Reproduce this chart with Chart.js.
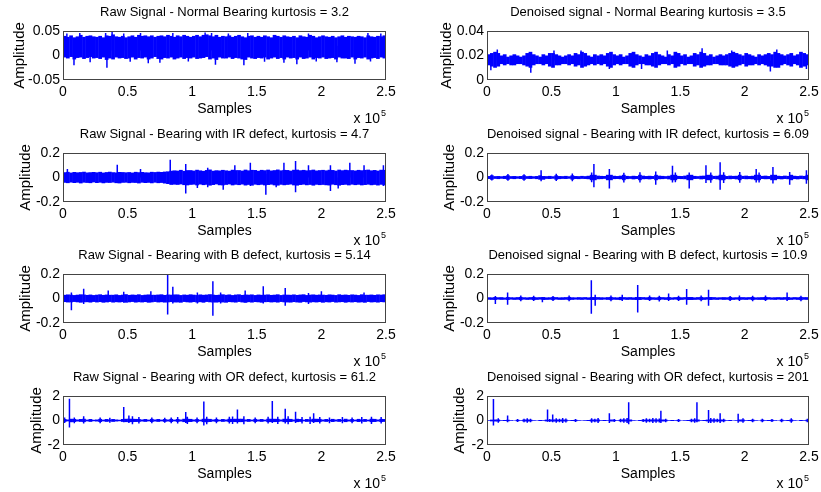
<!DOCTYPE html>
<html>
<head>
<meta charset="utf-8">
<title>Bearing signals</title>
<script src="https://cdn.jsdelivr.net/npm/chart.js@4.4.1/dist/chart.umd.min.js"></script>
<style>
  html, body { margin: 0; padding: 0; background: #fff; }
  body { width: 821px; height: 492px; position: relative; overflow: hidden; }
  canvas { position: absolute; }
</style>
</head>
<body>
<script>
// each trace = dense band (max/min per block of 2500 samples) + isolated spikes / bursts
const samplesPerBlock = 2500;

const xTickValues = [0, 50000, 100000, 150000, 200000, 250000];
const xTickLabels = ['0', '0.5', '1', '1.5', '2', '2.5'];

const yTicksNormalRaw = [-0.05, 0, 0.05];
const yLabelsNormalRaw = ['-0.05', '0', '0.05'];
const yTicksNormalDen = [0, 0.02, 0.04];
const yLabelsNormalDen = ['0', '0.02', '0.04'];
const yTicksSmall = [-0.2, 0, 0.2];
const yLabelsSmall = ['-0.2', '0', '0.2'];
const yTicksLarge = [-2, 0, 2];
const yLabelsLarge = ['-2', '0', '2'];

// --- normal bearing, raw
const rawNormalTop = [
  .040,.038,.041,.037,.039,.042,.038,.040,.041,.039, .038,.040,.037,.041,.040,.043,.039,.038,.040,.037,
  .039,.041,.038,.042,.040,.041,.039,.041,.038,.040, .041,.039,.042,.040,.038,.041,.039,.042,.040,.038,
  .040,.042,.039,.042,.043,.041,.039,.042,.038,.040, .039,.041,.038,.040,.042,.039,.037,.040,.041,.038,
  .040,.038,.041,.039,.037,.042,.040,.038,.041,.039, .038,.040,.037,.041,.039,.038,.042,.040,.037,.039,
  .041,.039,.038,.040,.037,.039,.041,.038,.040,.039, .038,.040,.039,.037,.041,.039,.038,.040,.039,.041
];
const rawNormalBottom = [
  -.004,-.006,-.003,-.008,-.005,-.004,-.007,-.005,-.003,-.006, -.005,-.007,-.004,-.009,-.006,-.008,-.004,-.006,-.005,-.007,
  -.006,-.004,-.008,-.005,-.006,-.004,-.008,-.006,-.003,-.007, -.008,-.005,-.006,-.004,-.008,-.006,-.004,-.007,-.005,-.006,
  -.004,-.007,-.006,-.005,-.003,-.008,-.006,-.009,-.004,-.006, -.006,-.004,-.007,-.005,-.006,-.008,-.009,-.004,-.006,-.007,
  -.005,-.006,-.004,-.008,-.006,-.004,-.007,-.005,-.008,-.004, -.006,-.005,-.008,-.004,-.007,-.006,-.004,-.008,-.005,-.006,
  -.004,-.007,-.006,-.005,-.008,-.004,-.006,-.006,-.007,-.004, -.008,-.005,-.006,-.004,-.008,-.006,-.005,-.007,-.004,-.006
];
const rawNormalSpikeAt = [3000, 8500, 13000, 21000, 33000, 34000, 38000, 47000, 52000, 60000, 66000, 75000, 85000, 97000, 110000,
  115000, 118000, 128000, 140000, 143000, 156000, 171000, 181000, 190000, 196000, 212000, 226000, 236000, 238000, 246000];
const rawNormalSpikeHi = [.045, .02, .046, .02, .046, .02, .049, .045, .02, .046, .02, .02, .046, .02, .047,
  .046, .02, .045, .02, .046, .02, .02, .02, .045, .02, .02, .02, .046, .02, .045];
const rawNormalSpikeLo = [.01, -.020, .01, -.014, .01, -.025, .01, .01, -.013, .01, -.016, -.015, .01, -.012, .01,
  .01, -.019, .01, -.020, .01, -.013, -.015, -.018, .01, -.012, -.014, -.017, .01, -.012, .01];

// --- normal bearing, denoised
const denNormalTop = [
  .021,.022,.023,.022,.020,.021,.019,.020,.021,.020, .019,.020,.022,.023,.021,.020,.019,.021,.020,.022,
  .022,.021,.020,.019,.020,.021,.020,.022,.021,.023, .022,.020,.019,.021,.020,.021,.020,.022,.023,.021,
  .020,.021,.019,.020,.022,.023,.021,.020,.019,.021, .020,.022,.023,.021,.020,.019,.021,.020,.023,.022,
  .020,.021,.019,.020,.022,.021,.023,.022,.020,.021, .019,.020,.021,.020,.021,.022,.023,.022,.021,.020,
  .022,.021,.020,.019,.021,.020,.021,.022,.021,.023, .022,.021,.020,.021,.022,.020,.021,.023,.022,.021
];
const denNormalBottom = [
  .012,.011,.010,.011,.013,.012,.013,.012,.012,.013, .013,.012,.011,.010,.012,.013,.013,.012,.013,.011,
  .010,.012,.012,.013,.013,.012,.013,.011,.012,.010, .011,.012,.013,.012,.013,.012,.013,.011,.010,.012,
  .013,.012,.013,.013,.011,.010,.012,.013,.013,.012, .012,.011,.010,.012,.013,.013,.012,.013,.010,.011,
  .013,.012,.013,.013,.011,.012,.010,.011,.012,.012, .013,.013,.012,.012,.012,.011,.010,.011,.012,.013,
  .011,.012,.012,.013,.012,.013,.012,.011,.011,.010, .010,.012,.013,.012,.011,.013,.012,.010,.011,.012
];
const denNormalSpikeAt = [3000, 8000, 34000, 52000, 73000, 95000, 120000, 140000, 167000, 190000, 220000, 225000, 248000];
const denNormalSpikeHi = [.016, .025, .016, .024, .024, .016, .016, .024, .026, .024, .016, .025, .016];
const denNormalSpikeLo = [.008, .016, .006, .016, .016, .009, .009, .016, .016, .016, .007, .016, .009];

// --- inner race defect, raw
const rawIrTop = [
  .043,.046,.040,.045,.042,.044,.047,.041,.043,.045, .042,.046,.040,.044,.047,.043,.041,.045,.044,.042,
  .044,.040,.046,.043,.045,.042,.041,.046,.044,.047, .045,.048,.050,.055,.058,.056,.062,.054,.060,.060,
  .056,.063,.058,.054,.061,.065,.055,.059,.057,.062, .058,.055,.063,.060,.060,.056,.064,.058,.062,.061,
  .055,.062,.059,.064,.057,.060,.065,.058,.062,.061, .056,.063,.064,.059,.062,.058,.060,.064,.057,.060,
  .062,.058,.063,.061,.056,.064,.059,.063,.060,.060, .057,.062,.059,.062,.064,.058,.061,.056,.063,.062
];
const rawIrBottom = [
  -.043,-.046,-.041,-.045,-.042,-.048,-.042,-.044,-.046,-.040, -.045,-.042,-.047,-.043,-.044,-.041,-.046,-.048,-.043,-.042,
  -.046,-.043,-.044,-.048,-.042,-.045,-.043,-.047,-.042,-.046, -.044,-.049,-.053,-.060,-.058,-.060,-.056,-.062,-.064,-.060,
  -.058,-.064,-.057,-.062,-.059,-.066,-.061,-.056,-.063,-.064, -.060,-.056,-.064,-.059,-.062,-.057,-.065,-.060,-.066,-.058,
  -.062,-.059,-.064,-.061,-.058,-.064,-.066,-.059,-.063,-.060, -.057,-.064,-.066,-.061,-.058,-.063,-.060,-.066,-.059,-.062,
  -.060,-.063,-.065,-.058,-.062,-.066,-.061,-.059,-.064,-.058, -.062,-.059,-.064,-.061,-.058,-.063,-.060,-.065,-.059,-.064
];
const rawIrSpikeAt = [3400, 42000, 60000, 83000, 95000, 104000, 112000, 124000, 133000, 145000, 157000, 165000, 171000, 180000,
  190000, 207000, 213000, 222000, 233000, 248000];
const rawIrSpikeHi = [.070, .105, .070, .145, .110, 0, .080, 0, .100, .120, .030, 0, .120, .135, .100, .100, 0, .120, .100, .100];
const rawIrSpikeLo = [0, 0, 0, -.040, -.130, -.085, -.080, -.100, 0, -.070, -.140, -.080, 0, -.120, 0, -.110, -.090, 0, 0, -.070];

// --- inner race defect, denoised
const denIrTop = [
  .012,.018,.011,.012,.010,.013,.018,.011,.012,.010, .012,.018,.011,.013,.010,.012,.018,.012,.011,.013,
  .010,.018,.012,.011,.013,.010,.018,.012,.011,.013, .011,.014,.022,.022,.015,.013,.012,.022,.022,.014,
  .012,.015,.022,.013,.011,.014,.012,.022,.015,.012, .014,.012,.022,.015,.013,.011,.014,.022,.022,.013,
  .012,.015,.022,.022,.013,.011,.014,.015,.022,.022, .013,.014,.022,.022,.012,.015,.013,.014,.022,.013,
  .015,.012,.014,.022,.022,.013,.015,.012,.022,.022, .014,.012,.015,.013,.022,.014,.012,.015,.013,.022
];
const denIrBottom = [
  -.012,-.018,-.011,-.013,-.010,-.012,-.018,-.011,-.013,-.010, -.012,-.018,-.011,-.012,-.010,-.013,-.018,-.018,-.011,-.012,
  -.010,-.018,-.013,-.011,-.012,-.010,-.018,-.012,-.013,-.011, -.012,-.014,-.022,-.022,-.014,-.013,-.011,-.022,-.022,-.013,
  -.012,-.014,-.022,-.013,-.011,-.015,-.012,-.022,-.014,-.013, -.015,-.012,-.022,-.014,-.013,-.011,-.015,-.022,-.022,-.012,
  -.013,-.014,-.022,-.022,-.012,-.011,-.015,-.013,-.022,-.022, -.012,-.015,-.022,-.022,-.013,-.014,-.012,-.015,-.022,-.012,
  -.014,-.013,-.015,-.022,-.022,-.012,-.014,-.013,-.022,-.022, -.013,-.015,-.012,-.014,-.022,-.013,-.015,-.012,-.014,-.022
];
const denIrSpikeAt = [42000, 83000, 95000, 131000, 144000, 157000, 170000, 181000, 209000, 222000, 235000, 248000,
  3750, 16250, 28750, 53750, 66250, 81250, 106250, 118750, 146250, 173750, 183750, 196250, 211250];
const denIrSpikeHi = [.060, .110, .070, .050, .095, .040, .100, .125, .070, .085, .045, .060,
  .025, .028, .027, .030, .032, .040, .038, .042, .040, .040, .042, .045, .040];
const denIrSpikeLo = [-.030, -.080, -.090, -.060, -.040, -.090, -.045, -.100, -.040, -.048, -.060, -.050,
  -.025, -.027, -.026, -.029, -.030, -.038, -.040, -.040, -.038, -.042, -.045, -.042, -.040];

// --- ball defect, raw
const rawBTop = [
  .030,.033,.031,.028,.031,.034,.032,.029,.032,.028, .031,.034,.029,.032,.030,.030,.033,.028,.031,.035,
  .029,.032,.030,.034,.028,.031,.033,.030,.030,.032, .034,.029,.032,.031,.033,.033,.028,.032,.030,.034,
  .031,.028,.033,.030,.032,.035,.031,.029,.031,.034, .030,.033,.028,.032,.034,.029,.032,.031,.033,.028,
  .032,.030,.031,.033,.029,.031,.034,.028,.032,.031, .030,.033,.029,.032,.034,.028,.031,.033,.030,.032,
  .031,.029,.033,.031,.028,.034,.030,.032,.029,.033, .031,.028,.034,.030,.030,.032,.029,.033,.031,.034
];
const rawBBottom = [
  -.029,-.032,-.031,-.028,-.031,-.034,-.030,-.030,-.033,-.028, -.032,-.029,-.034,-.031,-.028,-.033,-.030,-.032,-.029,-.034,
  -.031,-.028,-.033,-.030,-.032,-.029,-.034,-.031,-.028,-.032, -.030,-.033,-.031,-.029,-.032,-.032,-.034,-.028,-.031,-.033,
  -.029,-.032,-.030,-.034,-.028,-.031,-.032,-.033,-.030,-.032, -.034,-.029,-.031,-.033,-.028,-.032,-.035,-.030,-.033,-.029,
  -.031,-.034,-.030,-.029,-.032,-.030,-.033,-.028,-.031,-.032, -.033,-.029,-.032,-.034,-.028,-.031,-.033,-.030,-.032,-.029,
  -.034,-.030,-.032,-.028,-.033,-.031,-.029,-.034,-.030,-.032, -.029,-.033,-.031,-.034,-.028,-.032,-.030,-.033,-.029,-.031
];
const rawBSpikeAt = [6500, 16000, 35000, 47000, 68000, 81000, 85000, 104000, 116000, 122000, 141000, 155000, 172000, 190000, 200000, 233000];
const rawBSpikeHi = [.050, .080, .065, .055, .060, .200, .095, .050, .140, .050, .065, .100, .085, .045, .060, .050];
const rawBSpikeLo = [-.095, -.045, -.030, -.035, -.030, -.130, -.040, -.040, -.140, -.040, -.030, -.040, -.060, -.045, -.030, -.030];

// --- ball defect, denoised
const denBTop = [
  .010,.009,.012,.010,.011,.008,.012,.010,.009,.011, .013,.010,.009,.011,.013,.010,.011,.012,.009,.010,
  .013,.011,.009,.010,.011,.013,.010,.009,.011,.010, .011,.009,.012,.012,.011,.010,.009,.011,.013,.010,
  .009,.013,.011,.010,.011,.009,.012,.012,.011,.010, .013,.010,.009,.013,.011,.010,.012,.009,.011,.013,
  .010,.011,.012,.012,.009,.011,.013,.010,.011,.012, .011,.009,.010,.011,.010,.013,.009,.010,.011,.011,
  .010,.011,.013,.009,.010,.011,.013,.011,.009,.010, .011,.010,.011,.012,.009,.011,.010,.013,.011,.011
];
const denBBottom = [
  -.010,-.011,-.012,-.009,-.011,-.010,-.012,-.009,-.011,-.010, -.013,-.009,-.011,-.010,-.013,-.011,-.009,-.012,-.011,-.010,
  -.013,-.009,-.011,-.011,-.010,-.013,-.011,-.009,-.010,-.011, -.009,-.011,-.012,-.012,-.010,-.011,-.009,-.011,-.013,-.010,
  -.011,-.013,-.009,-.011,-.010,-.011,-.012,-.012,-.009,-.011, -.013,-.010,-.011,-.013,-.009,-.011,-.012,-.010,-.009,-.013,
  -.011,-.009,-.012,-.012,-.011,-.010,-.013,-.011,-.009,-.012, -.010,-.011,-.009,-.011,-.010,-.013,-.011,-.009,-.011,-.010,
  -.011,-.009,-.013,-.010,-.011,-.011,-.013,-.009,-.010,-.011, -.009,-.011,-.010,-.012,-.011,-.009,-.011,-.013,-.010,-.011
];
const denBSpikeAt = [6500, 16000, 43000, 81000, 84000, 105000, 117000, 141000, 155000, 172000, 196000, 233000,
  26250, 36250, 51250, 63750, 96250, 126250, 133750, 148750, 166250, 188750, 206250, 216250, 243750];
const denBSpikeHi = [.020, .050, .010, .150, .030, .030, .110, .040, .077, .072, .025, .050,
  .024, .022, .021, .025, .024, .025, .022, .023, .025, .021, .022, .024, .023];
const denBSpikeLo = [-.045, -.050, -.030, -.125, -.060, -.020, -.115, -.020, -.050, -.060, -.020, -.020,
  -.022, -.020, -.021, -.023, -.022, -.020, -.024, -.020, -.022, -.021, -.023, -.020, -.022];

// --- outer race defect, raw
const rawOrTop = [
  .12,.08,.14,.13,.08,.12,.14,.07,.12,.06, .08,.13,.07,.12,.07,.12,.08,.06,.12,.14,
  .14,.14,.13,.12,.08,.12,.07,.13,.08,.12, .07,.12,.08,.13,.07,.12,.08,.14,.14,.13,
  .08,.12,.07,.14,.14,.13,.08,.12,.07,.12, .08,.14,.13,.14,.14,.14,.08,.12,.07,.13,
  .08,.12,.07,.14,.14,.14,.13,.08,.14,.14, .13,.08,.14,.12,.07,.12,.08,.14,.14,.13,
  .08,.12,.07,.13,.08,.12,.07,.14,.08,.12, .07,.13,.08,.12,.07,.14,.13,.08,.13,.12
];
const rawOrBottom = [
  -.11,-.07,-.14,-.12,-.08,-.11,-.13,-.07,-.11,-.06, -.08,-.12,-.07,-.11,-.07,-.11,-.08,-.06,-.11,-.13,
  -.13,-.13,-.12,-.11,-.08,-.11,-.07,-.12,-.08,-.11, -.07,-.11,-.08,-.12,-.07,-.11,-.08,-.13,-.13,-.12,
  -.08,-.11,-.07,-.13,-.14,-.12,-.08,-.11,-.07,-.11, -.08,-.13,-.12,-.13,-.13,-.13,-.08,-.11,-.07,-.12,
  -.08,-.11,-.07,-.13,-.13,-.13,-.12,-.08,-.13,-.13, -.12,-.08,-.13,-.11,-.07,-.11,-.08,-.13,-.13,-.12,
  -.08,-.11,-.07,-.12,-.08,-.11,-.07,-.13,-.08,-.11, -.07,-.12,-.08,-.11,-.07,-.13,-.12,-.08,-.12,-.11
];
const rawOrSpikeAt = [5000, 16000, 47000, 51000, 95000, 109000, 135000, 140000, 162000, 172000, 180000, 194000,
  1250, 8750, 28750, 36250, 53750, 58750, 68750, 78750, 83750, 88750, 96250, 103750, 111250, 118750, 128750, 131250,
  148750, 158750, 166250, 174250, 185000, 191250, 198750, 206250, 216250, 223750, 231250, 238750, 246250];
const rawOrSpikeHi = [1.77, .35, 1.10, .40, .70, 1.56, .90, .35, 1.60, .96, .72, .60,
  .25, .25, .25, .22, .35, .28, .25, .22, .25, .28, .30, .25, .30, .25, .30, .32,
  .25, .30, .30, .35, .28, .30, .28, .25, .28, .25, .28, .30, .28];
const rawOrSpikeLo = [-.57, -.25, -.15, -.20, -.20, -.40, -.25, -.30, -.20, -.25, -.20, -.20,
  -.20, -.22, -.22, -.18, -.30, -.25, -.22, -.18, -.22, -.25, -.28, -.22, -.30, -.22, -.25, -.28,
  -.22, -.25, -.28, -.30, -.25, -.28, -.24, -.22, -.22, -.22, -.25, -.28, -.25];

// --- outer race defect, denoised
const denOrTop = [
  .03,.07,.08,.08,.03,.04,.06,.03,.02,.06, .03,.07,.08,.07,.03,.02,.04,.03,.07,.06,
  .08,.08,.07,.08,.07,.03,.04,.06,.03,.02, .03,.04,.08,.07,.08,.03,.04,.03,.08,.06,
  .03,.07,.08,.08,.08,.03,.02,.04,.06,.08, .07,.08,.08,.07,.08,.07,.03,.04,.03,.06,
  .02,.03,.04,.07,.08,.08,.03,.04,.07,.08, .08,.07,.08,.07,.03,.04,.02,.03,.08,.08,
  .03,.04,.07,.03,.02,.07,.03,.04,.06,.03, .02,.07,.03,.04,.08,.03,.02,.04,.03,.07
];
const denOrBottom = [
  -.03,-.07,-.08,-.08,-.03,-.04,-.06,-.03,-.02,-.06, -.03,-.07,-.08,-.07,-.03,-.02,-.04,-.03,-.07,-.06,
  -.08,-.08,-.07,-.08,-.07,-.03,-.04,-.06,-.03,-.02, -.03,-.04,-.08,-.07,-.08,-.03,-.04,-.03,-.08,-.06,
  -.03,-.07,-.08,-.08,-.08,-.03,-.02,-.04,-.06,-.08, -.07,-.08,-.08,-.07,-.08,-.07,-.03,-.04,-.03,-.06,
  -.02,-.03,-.04,-.07,-.08,-.08,-.03,-.04,-.07,-.08, -.08,-.07,-.08,-.07,-.03,-.04,-.02,-.03,-.08,-.08,
  -.03,-.04,-.07,-.03,-.02,-.07,-.03,-.04,-.06,-.03, -.02,-.07,-.03,-.04,-.08,-.03,-.02,-.04,-.03,-.07
];
const denOrSpikeAt = [5000, 16000, 47000, 51000, 95000, 110000, 135000, 163000, 172000, 181000, 195000,
  8750, 23750, 28750, 31250, 33750, 48750, 53750, 56250, 58750, 61250, 68750, 81250, 83750, 86250, 98750,
  103750, 106250, 108750, 121250, 123750, 126250, 128750, 131250, 133750, 138750, 148750, 158750, 161250,
  173750, 176250, 178750, 183750, 198750, 206250, 213750, 221250, 228750, 236250, 248750];
const denOrSpikeHi = [1.75, .40, .90, .50, .60, 1.50, .80, 1.50, .85, .60, .55,
  .18, .12, .15, .18, .14, .12, .18, .15, .20, .16, .12, .18, .15, .20, .12,
  .15, .18, .20, .12, .18, .15, .20, .18, .16, .14, .12, .15, .18,
  .20, .18, .15, .14, .18, .15, .14, .12, .15, .18, .15];
const denOrSpikeLo = [-.40, -.15, -.10, -.15, -.20, -.30, -.20, -.15, -.20, -.20, -.18,
  -.18, -.12, -.15, -.18, -.14, -.12, -.18, -.15, -.20, -.16, -.12, -.18, -.15, -.20, -.12,
  -.15, -.18, -.20, -.12, -.18, -.15, -.20, -.18, -.16, -.14, -.12, -.15, -.18,
  -.20, -.18, -.15, -.14, -.18, -.15, -.14, -.12, -.15, -.18, -.15];

// layout: one canvas per subplot
const colLeft = [0, 410];
const colWidth = [410, 411];
const colAxisWidth = [63, 77];
const colPadRight = [24, 12];
const rowTop = [0, 122, 243, 365];

const panels = [
  { title: 'Raw Signal - Normal Bearing kurtosis = 3.2', top: rawNormalTop, bottom: rawNormalBottom,
    at: rawNormalSpikeAt, hi: rawNormalSpikeHi, lo: rawNormalSpikeLo, ticks: yTicksNormalRaw, labels: yLabelsNormalRaw, row: 0, col: 0, ylabX: 19.5 },
  { title: 'Denoised signal - Normal Bearing kurtosis = 3.5', top: denNormalTop, bottom: denNormalBottom,
    at: denNormalSpikeAt, hi: denNormalSpikeHi, lo: denNormalSpikeLo, ticks: yTicksNormalDen, labels: yLabelsNormalDen, row: 0, col: 1, ylabX: 36.5 },
  { title: 'Raw Signal - Bearing with IR defect, kurtosis = 4.7', top: rawIrTop, bottom: rawIrBottom,
    at: rawIrSpikeAt, hi: rawIrSpikeHi, lo: rawIrSpikeLo, ticks: yTicksSmall, labels: yLabelsSmall, row: 1, col: 0, ylabX: 26 },
  { title: 'Denoised signal - Bearing with IR defect, kurtosis = 6.09', top: denIrTop, bottom: denIrBottom,
    at: denIrSpikeAt, hi: denIrSpikeHi, lo: denIrSpikeLo, ticks: yTicksSmall, labels: yLabelsSmall, row: 1, col: 1, ylabX: 40 },
  { title: 'Raw Signal - Bearing with B defect, kurtosis = 5.14', top: rawBTop, bottom: rawBBottom,
    at: rawBSpikeAt, hi: rawBSpikeHi, lo: rawBSpikeLo, ticks: yTicksSmall, labels: yLabelsSmall, row: 2, col: 0, ylabX: 26 },
  { title: 'Denoised signal - Bearing with B defect, kurtosis = 10.9', top: denBTop, bottom: denBBottom,
    at: denBSpikeAt, hi: denBSpikeHi, lo: denBSpikeLo, ticks: yTicksSmall, labels: yLabelsSmall, row: 2, col: 1, ylabX: 40 },
  { title: 'Raw Signal - Bearing with OR defect, kurtosis = 61.2', top: rawOrTop, bottom: rawOrBottom,
    at: rawOrSpikeAt, hi: rawOrSpikeHi, lo: rawOrSpikeLo, ticks: yTicksLarge, labels: yLabelsLarge, row: 3, col: 0, ylabX: 37 },
  { title: 'Denoised signal - Bearing with OR defect, kurtosis = 201', top: denOrTop, bottom: denOrBottom,
    at: denOrSpikeAt, hi: denOrSpikeHi, lo: denOrSpikeLo, ticks: yTicksLarge, labels: yLabelsLarge, row: 3, col: 1, ylabX: 50 }
];

Chart.defaults.font.family = '"Liberation Sans", Arial, Helvetica, sans-serif';
Chart.defaults.color = '#000';

const FONT = '"Liberation Sans", Arial, Helvetica, sans-serif';

// axes box and the "x 10^5" multiplier, like matlab
const boxAndExponent = {
  id: 'boxAndExponent',
  afterDraw(chart) {
    const { ctx, chartArea: a } = chart;
    ctx.save();
    ctx.strokeStyle = '#444';
    ctx.lineWidth = 1;
    ctx.strokeRect(Math.round(a.left) + 0.5, Math.round(a.top) + 0.5, Math.round(a.width) - 1, Math.round(a.height) - 1);
    ctx.fillStyle = '#000';
    ctx.textAlign = 'right';
    ctx.textBaseline = 'alphabetic';
    ctx.font = '9px ' + FONT;
    ctx.fillText('5', a.right, a.bottom + 36);
    ctx.font = '14px ' + FONT;
    ctx.fillText('x 10', a.right - 6, a.bottom + 43);
    ctx.restore();
  }
};

// floating bar per block, from its min to its max
function bandBars(top, bottom) {
  return top.map((t, i) => ({ x: (i + 0.5) * samplesPerBlock, y: [bottom[i], t] }));
}

// one vertical stroke per spike, broken by nulls
function spikeLines(at, hi, lo) {
  const pts = [];
  at.forEach((x, i) => {
    pts.push({ x, y: lo[i] }, { x, y: hi[i] }, { x, y: null });
  });
  return pts;
}

panels.forEach(p => {
  const canvas = document.createElement('canvas');
  canvas.width = colWidth[p.col];
  canvas.height = 126;
  canvas.style.left = colLeft[p.col] + 'px';
  canvas.style.top = rowTop[p.row] + 'px';
  document.body.appendChild(canvas);

  new Chart(canvas, {
    type: 'bar',
    data: {
      datasets: [
        {
          type: 'line',
          data: spikeLines(p.at, p.hi, p.lo),
          borderColor: '#0000ff',
          borderWidth: 1.5,
          pointRadius: 0,
          spanGaps: false
        },
        {
          type: 'bar',
          data: bandBars(p.top, p.bottom),
          backgroundColor: '#0000ff',
          borderWidth: 0,
          barPercentage: 1.15,
          categoryPercentage: 1
        }
      ]
    },
    options: {
      responsive: false,
      animation: false,
      events: [],
      layout: { padding: { left: 0, right: colPadRight[p.col], top: 0, bottom: 0 } },
      plugins: {
        legend: { display: false },
        tooltip: { enabled: false },
        title: {
          display: true,
          text: p.title,
          color: '#000',
          fullSize: false,
          font: { size: 13, weight: 'normal' },
          padding: { top: 5, bottom: 10.4 }
        }
      },
      scales: {
        x: {
          type: 'linear',
          min: 0,
          max: 250000,
          offset: false,
          afterBuildTicks: s => { s.ticks = xTickValues.map(v => ({ value: v })); },
          afterFit: s => { s.height = 46; s.paddingLeft = 0; s.paddingRight = 0; },
          grid: { display: false, drawTicks: false },
          border: { display: false },
          ticks: {
            autoSkip: false,
            maxRotation: 0,
            padding: 4,
            font: { size: 14 },
            callback: (v, i) => xTickLabels[i]
          },
          title: { display: true, text: 'Samples', font: { size: 14 }, padding: { top: 0, bottom: 8.6 } }
        },
        y: {
          type: 'linear',
          min: p.ticks[0],
          max: p.ticks[p.ticks.length - 1],
          afterBuildTicks: s => { s.ticks = p.ticks.map(v => ({ value: v })); },
          afterFit: s => { s.width = colAxisWidth[p.col]; s.paddingTop = 0; s.paddingBottom = 0; },
          grid: { display: false, drawTicks: false },
          border: { display: false },
          ticks: {
            autoSkip: false,
            padding: 3,
            font: { size: 14 },
            callback: (v, i) => p.labels[i]
          },
          title: { display: true, text: 'Amplitude', font: { size: 15 }, padding: { top: p.ylabX - 9, bottom: 0 } }
        }
      }
    },
    plugins: [boxAndExponent]
  });
});
</script>
</body>
</html>
